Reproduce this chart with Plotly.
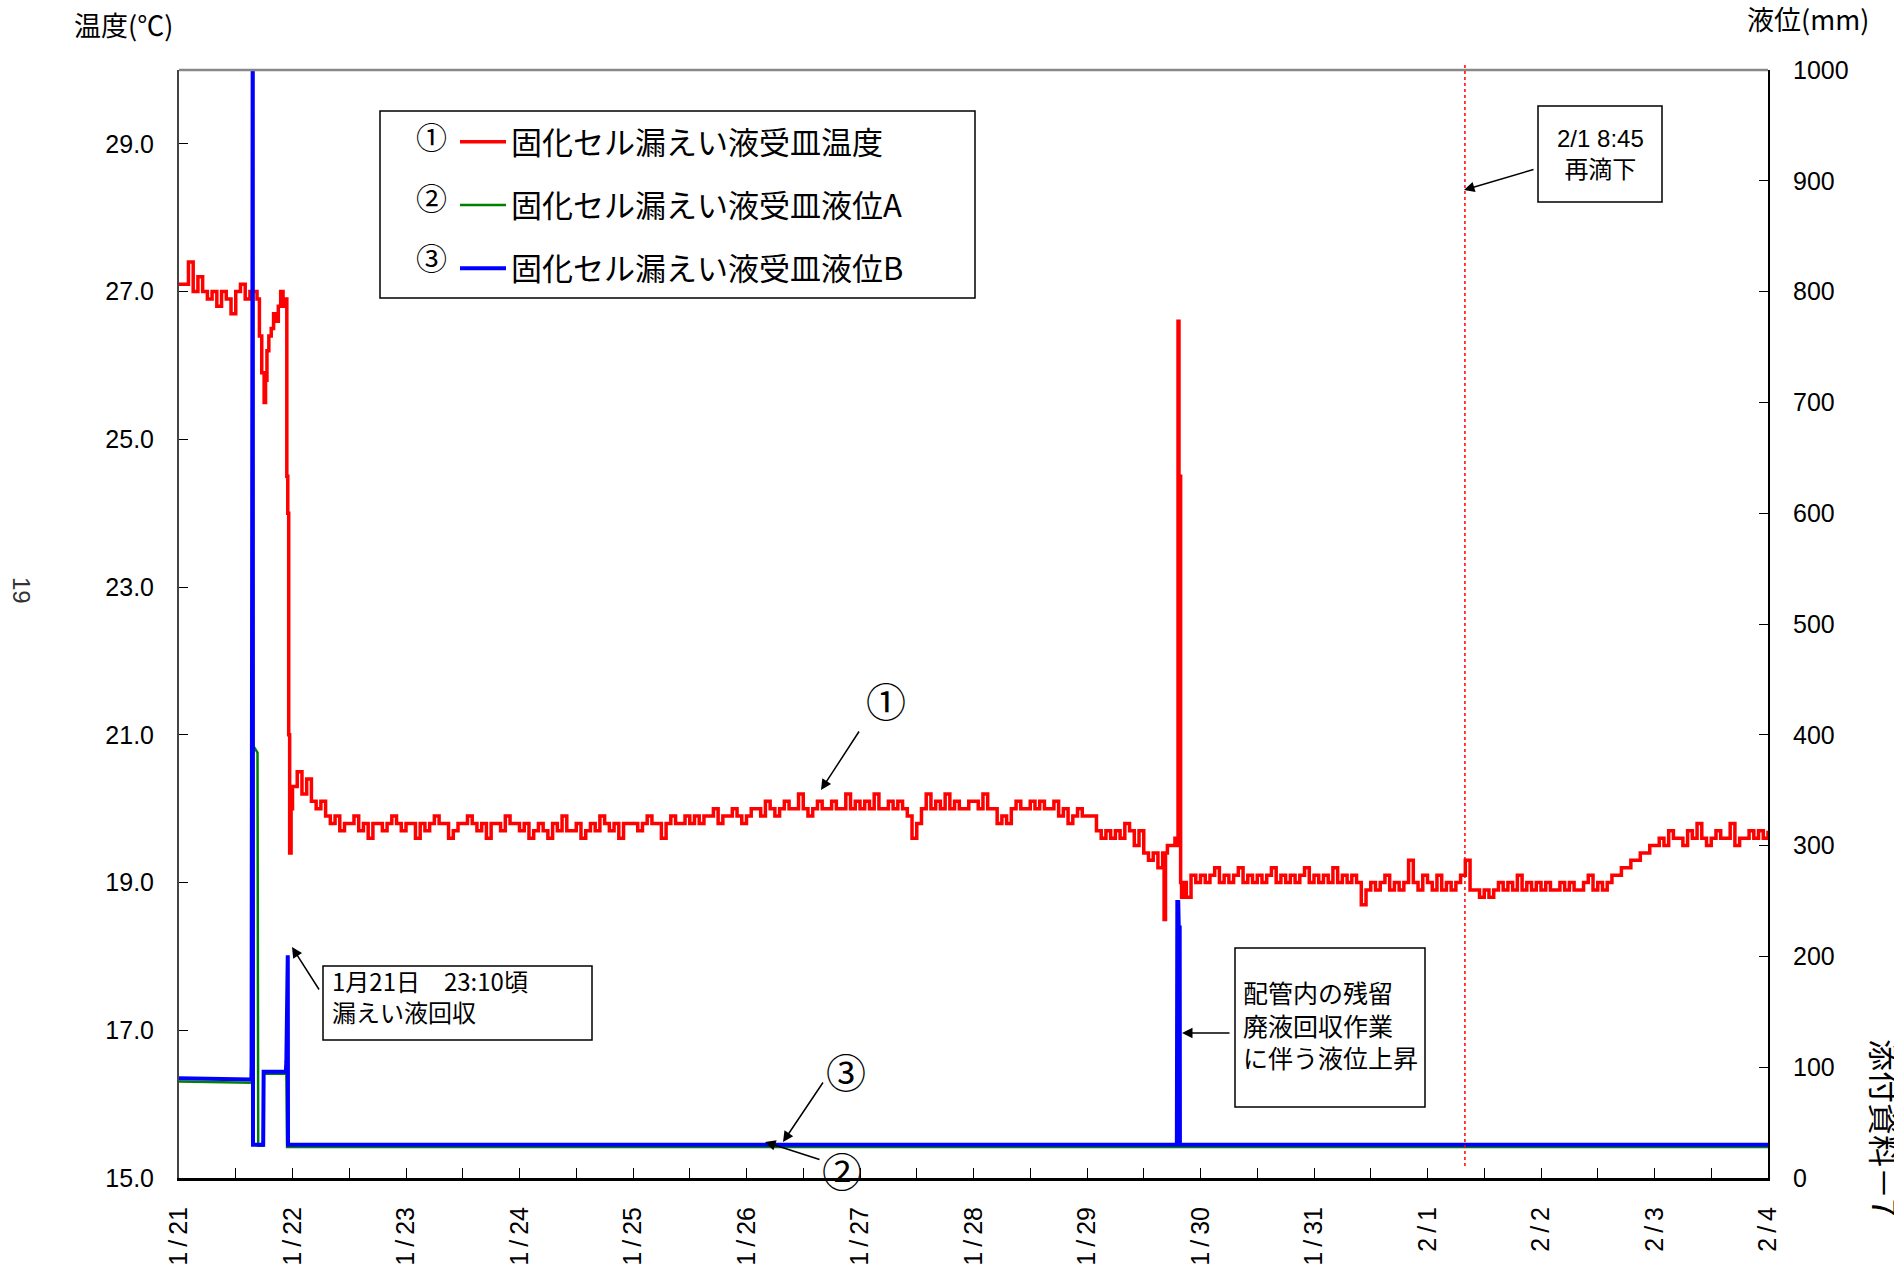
import pandas as pd
import plotly.graph_objects as go

# ---------------- data ----------------
BASE = pd.Timestamp("2009-01-21 00:00")

tick_dates = ["2009-01-21", "2009-01-22", "2009-01-23", "2009-01-24", "2009-01-25",
              "2009-01-26", "2009-01-27", "2009-01-28", "2009-01-29", "2009-01-30",
              "2009-01-31", "2009-02-01", "2009-02-02", "2009-02-03", "2009-02-04"]
tick_labels = ["1/21", "1/22", "1/23", "1/24", "1/25", "1/26", "1/27", "1/28",
               "1/29", "1/30", "1/31", "2/1", "2/2", "2/3", "2/4"]

temp_ticks = [15.0, 17.0, 19.0, 21.0, 23.0, 25.0, 27.0, 29.0]
level_ticks = [0, 100, 200, 300, 400, 500, 600, 700, 800, 900, 1000]

# temperature (deg C) - hourly readings from hour 0 of 1/21
temp_seg_a = [27.1, 27.1, 27.4, 27.0, 27.2, 27.0, 26.9, 27.0, 26.8, 27.0, 26.9, 26.7,
              27.0, 27.1, 26.9, 27.0, 27.0]
# first event (hours after 1/21 0:00)
temp_evt1_hours = [16.5, 17.0, 17.5, 18.0, 18.3, 18.6, 19.0, 19.5, 20.0, 20.5, 21.0,
                   21.5, 22.0, 22.5, 22.8, 23.0, 23.2, 23.4, 23.7]
temp_evt1_vals = [26.9, 26.4, 25.9, 25.5, 25.8, 26.2, 26.4, 26.5, 26.7, 26.6, 26.8,
                  27.0, 26.8, 26.9, 24.5, 24.0, 21.0, 19.4, 20.0]
# hourly readings from hour 24 to hour 207
temp_day1 = [20.3, 20.5, 20.2, 20.4, 20.1, 20.0, 20.1, 19.9, 19.8, 19.9, 19.7, 19.8,
             19.8, 19.9, 19.7, 19.8, 19.6, 19.8, 19.8, 19.7, 19.8, 19.9, 19.8, 19.7]
temp_day2 = [19.8, 19.8, 19.6, 19.8, 19.7, 19.8, 19.9, 19.8, 19.8, 19.6, 19.7, 19.8,
             19.8, 19.9, 19.8, 19.7, 19.8, 19.6, 19.8, 19.8, 19.7, 19.9, 19.8, 19.8]
temp_day3 = [19.7, 19.8, 19.6, 19.7, 19.8, 19.7, 19.6, 19.8, 19.7, 19.9, 19.7, 19.7,
             19.8, 19.6, 19.7, 19.8, 19.7, 19.9, 19.8, 19.7, 19.8, 19.6, 19.8, 19.8]
temp_day4 = [19.8, 19.7, 19.8, 19.9, 19.8, 19.8, 19.6, 19.8, 19.9, 19.8, 19.8, 19.9,
             19.8, 19.9, 19.8, 19.9, 19.9, 20.0, 19.8, 19.9, 19.9, 20.0, 19.9, 19.8]
temp_day5 = [19.9, 20.0, 20.0, 19.9, 20.1, 20.0, 19.9, 20.0, 20.1, 20.0, 20.0, 20.2,
             20.0, 19.9, 20.0, 20.1, 20.0, 20.0, 20.1, 20.0, 20.0, 20.2, 20.0, 20.1]
temp_day6 = [20.0, 20.1, 20.0, 20.2, 20.0, 20.0, 20.1, 20.0, 20.1, 20.0, 19.9, 19.6,
             19.8, 20.0, 20.2, 20.0, 20.1, 20.0, 20.2, 20.0, 20.1, 20.0, 20.0, 20.1]
temp_day7 = [20.1, 20.0, 20.2, 20.0, 20.0, 19.8, 19.9, 19.8, 20.0, 20.1, 20.0, 20.0,
             20.1, 20.0, 20.1, 20.0, 20.0, 20.1, 19.9, 20.0, 19.8, 19.9, 20.0, 19.9]
temp_day8a = [19.9, 19.9, 19.7, 19.6, 19.7, 19.6, 19.7, 19.6, 19.8, 19.7, 19.5, 19.7,
              19.4, 19.3, 19.4, 19.2]
# second event around 1/29 19:00
temp_evt2_hours = [208.0, 208.3, 208.6, 209.0, 210.0, 210.6, 211.0, 211.25, 211.45,
                   211.55, 211.8, 212.0, 212.5, 213.0]
temp_evt2_vals = [19.4, 18.5, 19.4, 19.5, 19.5, 19.6, 19.5, 26.6, 23.0, 24.5, 19.0,
                  18.8, 19.0, 18.8]
# hourly readings from hour 214 to hour 336
temp_day9b = [19.1, 19.0, 19.1, 19.0, 19.1, 19.2, 19.0, 19.1, 19.0, 19.1, 19.2, 19.0,
              19.1, 19.0, 19.1, 19.0, 19.1, 19.2, 19.0, 19.1, 19.0, 19.1, 19.0, 19.1,
              19.2, 19.0]
temp_day10 = [19.1, 19.0, 19.1, 19.0, 19.2, 19.0, 19.1, 19.0, 19.1, 19.0, 18.7, 18.9,
              19.0, 18.9, 19.0, 19.1, 18.9, 19.0, 18.9, 19.0, 19.3, 19.0, 18.9, 19.1]
temp_day11 = [19.0, 18.9, 19.1, 18.9, 19.0, 18.9, 19.0, 19.1, 19.3, 18.9, 18.9, 18.8,
              18.9, 18.8, 18.9, 19.0, 18.9, 19.0, 18.9, 19.1, 18.9, 19.0, 18.9, 19.0]
temp_day12 = [18.9, 19.0, 18.9, 18.9, 19.0, 18.9, 19.0, 18.9, 18.9, 19.0, 19.1, 18.9,
              19.0, 18.9, 19.0, 19.1, 19.1, 19.2, 19.2, 19.3, 19.3, 19.4, 19.4, 19.5]
temp_day13 = [19.5, 19.6, 19.5, 19.7, 19.6, 19.6, 19.5, 19.7, 19.6, 19.8, 19.6, 19.5,
              19.6, 19.7, 19.6, 19.6, 19.8, 19.5, 19.6, 19.6, 19.7, 19.6, 19.7, 19.6,
              19.7]

# liquid level A (mm): (hours, value)
levelA_hours = [0, 15.4, 15.6, 15.7, 16.6, 16.75, 17.8, 17.9, 22.7, 22.85, 336]
levelA_vals = [87, 86, 380, 390, 384, 29, 29, 94, 94, 28, 28]
# liquid level B (mm): (hours, value)
levelB_hours = [0, 15.3, 15.35, 15.4, 15.6, 15.65, 17.8, 17.9, 22.6, 22.7, 22.8,
                23.0, 23.05, 211.0, 211.1, 211.3, 211.4, 211.6, 211.65, 336]
levelB_vals = [90, 89, 102, 1100, 1100, 30, 30, 96, 96, 105, 201, 201, 30, 30, 249,
               249, 226, 226, 30, 30]

event_line_time = "2009-02-01 07:55"

series_names = ["固化セル漏えい液受皿温度", "固化セル漏えい液受皿液位A", "固化セル漏えい液受皿液位B"]


# ---------------- assemble ----------------
def hourly(start, vals):
    return [start + i for i in range(len(vals))]


def to_time(hours):
    return [BASE + pd.Timedelta(hours=h) for h in hours]


seg_c = temp_day1 + temp_day2 + temp_day3 + temp_day4 + temp_day5 + temp_day6 + temp_day7 + temp_day8a
seg_e = temp_day9b + temp_day10 + temp_day11 + temp_day12 + temp_day13
temp_hours = (hourly(0, temp_seg_a) + temp_evt1_hours + hourly(24, seg_c)
              + temp_evt2_hours + hourly(214, seg_e))
temp_vals = temp_seg_a + temp_evt1_vals + seg_c + temp_evt2_vals + seg_e

CJK = "Noto Sans CJK JP"
NUM = "Liberation Sans, Noto Sans CJK JP"
THIN = "\u2009"

# plot area in pixels
L, R, T, B = 179, 1768, 70, 1178


def px(X):
    return (X - L) / (R - L)


def py(Y):
    return (B - Y) / (B - T)


fig = go.Figure()
fig.add_trace(go.Scatter(x=to_time(temp_hours), y=temp_vals, mode="lines",
                         line=dict(color="#ff0000", width=3.5, shape="hv"),
                         name=series_names[0], legendgroup="g1", yaxis="y"))
fig.add_trace(go.Scatter(x=to_time(levelA_hours), y=levelA_vals, mode="lines",
                         line=dict(color="#008000", width=2.5),
                         name=series_names[1], legendgroup="g2", yaxis="y2"))
fig.add_trace(go.Scatter(x=to_time(levelB_hours), y=levelB_vals, mode="lines",
                         line=dict(color="#0000ff", width=4),
                         name=series_names[2], legendgroup="g3", yaxis="y2"))

fig.update_layout(
    width=1894, height=1264,
    margin=dict(l=L, r=1894 - R, t=T, b=1264 - B, autoexpand=False),
    paper_bgcolor="white", plot_bgcolor="white",
    font=dict(family=NUM, size=24, color="black"),
    showlegend=True,
    legend=dict(x=px(455), y=py(115), xanchor="left", yanchor="top",
                bgcolor="rgba(0,0,0,0)", borderwidth=0,
                font=dict(family=CJK, size=31, color="black"),
                tracegroupgap=20, traceorder="grouped", itemwidth=46),
    xaxis=dict(type="date", range=[BASE, BASE + pd.Timedelta(days=14)],
               tickmode="array", tickvals=tick_dates,
               ticktext=[t.replace("/", THIN + "/" + THIN) for t in tick_labels],
               tickangle=-90, ticks="inside", ticklen=10, tickwidth=1, tickcolor="black",
               minor=dict(ticks="inside", ticklen=10, dtick=43200000,
                          tick0="2009-01-21", tickcolor="black"),
               showline=True, linecolor="black", linewidth=3, showgrid=False,
               zeroline=False, ticklabelstandoff=16, automargin=False,
               tickfont=dict(family=NUM, size=25)),
    yaxis=dict(range=[15, 30], tickmode="array", tickvals=temp_ticks,
               ticktext=[f"{v:.1f}" for v in temp_ticks],
               ticks="inside", ticklen=9, tickcolor="black",
               showline=True, linecolor="#444444", linewidth=2, showgrid=False,
               zeroline=False, ticklabelstandoff=18, automargin=False,
               tickfont=dict(family=NUM, size=25)),
    yaxis2=dict(range=[0, 1000], overlaying="y", side="right", tickmode="array",
                tickvals=level_ticks, ticktext=[str(v) for v in level_ticks],
                ticks="inside", ticklen=9, tickcolor="black",
                showline=True, linecolor="black", linewidth=2, showgrid=False,
                zeroline=False, ticklabelstandoff=18, automargin=False,
                tickfont=dict(family=NUM, size=25)),
)


def box(x0, y0, x1, y1):
    return dict(type="rect", xref="paper", yref="paper", x0=px(x0), x1=px(x1),
                y0=py(y1), y1=py(y0), line=dict(color="black", width=1.5),
                fillcolor="white")


shapes = [
    # top frame line
    dict(type="line", xref="paper", yref="paper", x0=0, x1=1, y0=1, y1=1,
         line=dict(color="#888888", width=2.5)),
    # legend box
    dict(type="rect", xref="paper", yref="paper", x0=px(380), x1=px(975),
         y0=py(298), y1=py(111), line=dict(color="black", width=1.5)),
    # dotted line at the re-drip time
    dict(type="line", xref="x", yref="paper", x0=event_line_time, x1=event_line_time,
         y0=py(1166), y1=py(63), line=dict(color="#ff0000", width=1.5, dash="dot")),
    # note boxes
    box(1538, 106, 1662, 202),
    box(323, 966, 592, 1040),
    box(1235, 948, 1425, 1107),
]
fig.update_layout(shapes=shapes)

ann = []


def text(X, Y, s, size, family=CJK, **kw):
    d = dict(xref="paper", yref="paper", x=px(X), y=py(Y), text=s, showarrow=False,
             font=dict(family=family, size=size, color=kw.pop("color", "black")),
             xanchor=kw.pop("xanchor", "center"), yanchor=kw.pop("yanchor", "middle"))
    d.update(kw)
    ann.append(d)


def arrow(x_tail, y_tail, x_head, y_head, head=2, size=1.4):
    ann.append(dict(xref="paper", yref="paper", x=px(x_head), y=py(y_head),
                    ax=x_tail - x_head, ay=y_tail - y_head, axref="pixel", ayref="pixel",
                    text="", font=dict(size=1), showarrow=True, arrowhead=head,
                    arrowsize=size, arrowwidth=1.5, arrowcolor="black"))


# axis titles
text(72, 24, "温度(℃)", 27, xanchor="left")
text(1745, 18, "液位(mm)", 27, xanchor="left")
# legend numbers
text(431, 136, "①", 31)
text(431, 197, "②", 31)
text(431, 257, "③", 31)
# series call-outs
text(886, 700, "①", 40)
arrow(860, 730, 821, 790)
text(846, 1071, "③", 40)
arrow(824, 1081, 783, 1142)
text(842, 1170, "②", 40)
arrow(821, 1160, 765, 1142)
# boxed notes
text(1600, 154, "2/1 8:45<br>再滴下", 24, family=NUM)
arrow(1535, 169, 1464, 190)
text(330, 996, "1月21日　23:10頃<br>漏えい液回収", 24, xanchor="left", align="left")
arrow(320, 991, 292, 947)
text(1241, 1024, "配管内の残留<br>廃液回収作業<br>に伴う液位上昇", 25, xanchor="left",
     align="left")
arrow(1231, 1033, 1182, 1033)
# page markings
text(22, 590, "19", 24, family=NUM, textangle=90, color="#333333")
text(1886, 1128, "添付資料－7", 32, textangle=90)

fig.update_layout(annotations=ann)

fig.write_html("out.html")
